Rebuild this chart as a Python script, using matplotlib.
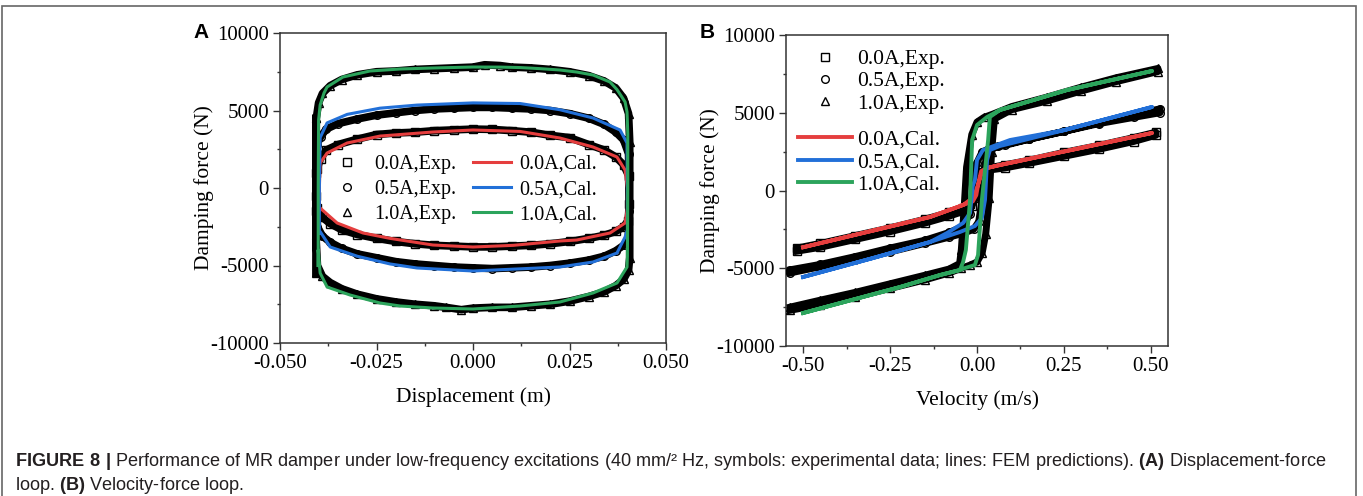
import matplotlib
matplotlib.use('Agg')
import matplotlib.pyplot as plt
from matplotlib.patches import Rectangle
from matplotlib.ticker import MultipleLocator, FormatStrFormatter

plt.rcParams['font.family'] = ['Liberation Serif', 'DejaVu Serif']
plt.rcParams['axes.unicode_minus'] = False
plt.rcParams['mathtext.fontset'] = 'custom'
plt.rcParams['mathtext.rm'] = 'Liberation Sans'
plt.rcParams['mathtext.bf'] = 'Liberation Sans:bold'

currents = ['0.0A', '0.5A', '1.0A']
cal_colors = ['#e53e3e', '#2270d8', '#2ca45c']
exp_markers = ['s', 'o', '^']

# ---- (A) displacement-force, FEM lines (closed loops) ----
a_cal_x = [
    [-0.0398, -0.0398, -0.0396, -0.0378, -0.0326, -0.0241, -0.0104, 0.0, 0.0122, 0.0225, 0.0311, 0.0373, 0.0394, 0.0400,
     0.0400, 0.0394, 0.0355, 0.0269, 0.0225, 0.0104, 0.0, -0.0104, -0.0215, -0.0285, -0.0352, -0.0396, -0.0398],
    [-0.0398, -0.0398, -0.0396, -0.0378, -0.0326, -0.0241, -0.0145, 0.0, 0.0122, 0.0225, 0.0311, 0.0381, 0.0399, 0.0400,
     0.0400, 0.0394, 0.0373, 0.0311, 0.0225, 0.0, -0.0145, -0.0215, -0.0300, -0.0370, -0.0396, -0.0398],
    [-0.0401, -0.0401, -0.0400, -0.0396, -0.0386, -0.0378, -0.0337, -0.0267, -0.0189, -0.0104, 0.0, 0.0070, 0.0122,
     0.0174, 0.0225, 0.0269, 0.0311, 0.0355, 0.0373, 0.0385, 0.0394, 0.0399, 0.0401,
     0.0401, 0.0400, 0.0399, 0.0373, 0.0311, 0.0225, 0.0122, 0.0, -0.0104, -0.0189, -0.0241, -0.0319, -0.0378,
     -0.0396, -0.0401, -0.0401],
]
a_cal_y = [
    [-1400, 0, 1613, 2258, 2903, 3350, 3613, 3742, 3650, 3226, 2645, 2000, 1161, 0,
     -1300, -2258, -2903, -3355, -3419, -3700, -3806, -3677, -3250, -2903, -2258, -1290, -1400],
    [-2900, 0, 3250, 4200, 4750, 5150, 5350, 5490, 5450, 5050, 4516, 3742, 2903, 0,
     -2700, -3161, -4194, -4774, -5097, -5355, -5161, -4900, -4400, -3806, -2810, -2900],
    [-5000, 0, 4400, 5355, 6129, 6516, 7161, 7548, 7677, 7742, 7806, 7800, 7770,
     7700, 7613, 7480, 7290, 6839, 6350, 5900, 5548, 4903, 3500,
     0, -4400, -5097, -6129, -6774, -7355, -7613, -7806, -7742, -7613, -7419, -6900, -6387,
     -5484, -4000, -5000],
]

# ---- (A) experimental bands ----
a_exp_x = [
    [-0.0406, -0.0404, -0.0395, -0.038, -0.035, -0.030, -0.025, -0.020, -0.015, -0.010, -0.005, 0.0, 0.005, 0.010,
     0.015, 0.020, 0.025, 0.030, 0.034, 0.037, 0.039, 0.0403, 0.0405, 0.0402, 0.039, 0.037, 0.034, 0.030, 0.025,
     0.020, 0.015, 0.010, 0.005, 0.0, -0.005, -0.010, -0.015, -0.020, -0.025, -0.030, -0.034, -0.037, -0.039,
     -0.0403, -0.0406, -0.0406],
    [-0.0406, -0.0404, -0.0395, -0.038, -0.035, -0.030, -0.025, -0.020, -0.015, -0.010, -0.005, 0.0, 0.005, 0.010,
     0.015, 0.020, 0.025, 0.030, 0.034, 0.037, 0.039, 0.0403, 0.0405, 0.0402, 0.039, 0.037, 0.034, 0.030, 0.025,
     0.020, 0.015, 0.010, 0.005, 0.0, -0.005, -0.010, -0.015, -0.020, -0.025, -0.030, -0.034, -0.037, -0.039,
     -0.0403, -0.0406, -0.0406],
    [-0.0407, -0.0406, -0.0400, -0.039, -0.037, -0.034, -0.030, -0.025, -0.020, -0.015, -0.010, -0.005, 0.0, 0.003,
     0.007, 0.010, 0.015, 0.020, 0.025, 0.030, 0.034, 0.037, 0.039, 0.0403, 0.0406, 0.0406, 0.0403, 0.039, 0.037,
     0.034, 0.030, 0.025, 0.020, 0.015, 0.010, 0.005, 0.0, -0.003, -0.007, -0.010, -0.015, -0.020, -0.025, -0.030,
     -0.034, -0.037, -0.039, -0.0403, -0.0407, -0.0407],
]
a_exp_y = [
    [-1500, 1200, 1900, 2450, 2800, 3150, 3450, 3550, 3600, 3700, 3750, 3800, 3780, 3700,
     3600, 3400, 3250, 2800, 2450, 2000, 1500, 800, -1000, -2100, -2500, -2800, -3050, -3250, -3450,
     -3600, -3700, -3750, -3800, -3800, -3750, -3700, -3600, -3450, -3250, -3000, -2700, -2300, -1900,
     -1300, -500, 1000],
    [-2500, 2800, 3300, 3800, 4150, 4450, 4700, 4850, 5000, 5100, 5150, 5200, 5200, 5150,
     5100, 5000, 4800, 4500, 4100, 3600, 3100, 2200, -1500, -3300, -3700, -4050, -4400, -4650, -4850,
     -5000, -5100, -5150, -5200, -5150, -5100, -5000, -4900, -4750, -4500, -4250, -3900, -3500, -3100,
     -2500, 0, 2800],
    [-5500, 4500, 5500, 6100, 6600, 7000, 7300, 7500, 7550, 7650, 7700, 7750, 7800, 7950,
     7900, 7800, 7750, 7650, 7500, 7250, 6900, 6450, 5800, 4800, 3000, -4500, -5300, -5900, -6300,
     -6700, -7000, -7300, -7500, -7600, -7700, -7700, -7750, -7850, -7700, -7600, -7500, -7350, -7150, -6850,
     -6500, -6100, -5700, -5000, -3000, 4500],
]

# ---- (B) velocity-force, FEM lines ----
b_cal_x = [
    [-0.50, -0.25, -0.135, -0.040, -0.020, -0.005, 0.005, 0.014, 0.029, 0.066, 0.25, 0.503,
     0.25, 0.066, 0.029, 0.012, 0.005, -0.002, -0.012, -0.040, -0.135, -0.25, -0.50],
    [-0.50, -0.30, -0.135, -0.049, -0.006, 0.014, 0.023, 0.029, 0.037, 0.066, 0.25, 0.503,
     0.25, 0.095, 0.017, 0.0, -0.006, -0.012, -0.020, -0.040, -0.086, -0.135, -0.30, -0.50],
    [-0.50, -0.221, -0.106, -0.049, -0.034, -0.006, 0.003, 0.014, 0.032, 0.037, 0.066, 0.259, 0.503,
     0.259, 0.066, 0.029, 0.0, -0.014, -0.020, -0.032, -0.040, -0.049, -0.106, -0.221, -0.50],
]
b_cal_y = [
    [-3650, -2317, -1704, -932, -600, -150, 500, 1150, 1447, 1640, 2507, 3698,
     2507, 1640, 1447, 1250, 600, -300, -700, -932, -1704, -2317, -3650],
    [-5563, -4350, -3312, -2668, -2283, -1769, -610, 1961, 2605, 2862, 3880, 5370,
     3880, 3248, 2605, 1961, 675, 300, -1447, -2090, -2733, -3312, -4350, -5563],
    [-7880, -6206, -5434, -5113, -4985, -4791, -4148, -610, 3248, 4727, 5177, 6463, 7685,
     6463, 5177, 4727, 4212, 3248, -610, -3826, -4598, -5113, -5434, -6206, -7880],
]

# ---- (B) experimental bands ----
b_exp_x = [
    [-0.517, -0.45, -0.35, -0.25, -0.15, -0.08, -0.04, -0.015, 0.0, 0.008, 0.015, 0.03, 0.08, 0.15, 0.25, 0.35,
     0.45, 0.514, 0.514, 0.45, 0.35, 0.25, 0.15, 0.08, 0.03, 0.012, 0.0, -0.008, -0.02, -0.04, -0.08, -0.15,
     -0.25, -0.35, -0.45, -0.517],
    [-0.537, -0.45, -0.35, -0.25, -0.15, -0.08, -0.04, -0.01, 0.005, 0.015, 0.022, 0.03, 0.06, 0.15, 0.25, 0.35,
     0.45, 0.526, 0.526, 0.45, 0.35, 0.25, 0.15, 0.08, 0.04, 0.015, 0.0, -0.01, -0.02, -0.04, -0.08, -0.15,
     -0.25, -0.35, -0.45, -0.537],
    [-0.537, -0.45, -0.35, -0.25, -0.15, -0.08, -0.045, -0.02, 0.0, 0.015, 0.025, 0.035, 0.042, 0.05, 0.1, 0.2,
     0.3, 0.4, 0.52, 0.52, 0.4, 0.3, 0.2, 0.1, 0.05, 0.02, 0.0, -0.015, -0.03, -0.038, -0.045, -0.05, -0.08,
     -0.15, -0.25, -0.35, -0.45, -0.537],
]
b_exp_y = [
    [-3900, -3650, -3150, -2650, -2100, -1650, -1350, -1000, -300, 600, 1100, 1300, 1450, 1750, 2200, 2650,
     3150, 3550, 3750, 3400, 2900, 2450, 1950, 1650, 1450, 1200, 400, -500, -900, -1100, -1400, -1850,
     -2400, -2900, -3400, -3700],
    [-5300, -4900, -4450, -3950, -3400, -3000, -2750, -2500, -2000, -500, 1500, 2600, 2850, 3300, 3800, 4300,
     4700, 5000, 5250, 4900, 4350, 3800, 3300, 2900, 2700, 2500, 1800, 500, -1500, -2300, -2700, -3200,
     -3700, -4250, -4750, -5100],
    [-7700, -7350, -6850, -6300, -5750, -5300, -5000, -4800, -4600, -4000, -2800, -500, 2500, 4600, 5200, 5750,
     6400, 7000, 7650, 7850, 7250, 6650, 6000, 5400, 4950, 4700, 4400, 3600, 1500, -1500, -3800, -4700, -5050,
     -5450, -6000, -6550, -7050, -7500],
]

W, H = 1363, 496
fig = plt.figure(figsize=(W / 100, H / 100), dpi=100)


def setup_axes(ax, xlim, xmajor, xfmt, xlabel):
    ax.set_xlim(xlim)
    ax.set_ylim(-10000, 10000)
    ax.xaxis.set_major_locator(MultipleLocator(xmajor))
    ax.xaxis.set_minor_locator(MultipleLocator(xmajor / 2))
    ax.xaxis.set_major_formatter(FormatStrFormatter(xfmt))
    ax.yaxis.set_major_locator(MultipleLocator(5000))
    ax.yaxis.set_minor_locator(MultipleLocator(2500))
    ax.tick_params(which='both', direction='out', top=False, right=False, labelsize=15, color='#333', width=1)
    ax.tick_params(which='major', length=5, pad=3)
    ax.tick_params(which='minor', length=2.5)
    for s in ax.spines.values():
        s.set_color('#333')
        s.set_linewidth(1.1)
    ax.set_xlabel(xlabel, fontsize=15.5, labelpad=10)
    ax.set_ylabel('Damping force (N)', fontsize=15.5, labelpad=-3)


def draw(ax, ex, ey, cx, cy, band, lw):
    for i in range(3):
        ax.plot(ex[i], ey[i], color='black', lw=band, solid_joinstyle='round', zorder=2)
        ax.plot(ex[i], ey[i], ls='none', marker=exp_markers[i], ms=5.5, mfc='none', mec='black', mew=1,
                zorder=3, label=currents[i] + ',Exp.')
    for i in range(3):
        ax.plot(cx[i], cy[i], color=cal_colors[i], lw=lw, zorder=4, label=currents[i] + ',Cal.')


axA = fig.add_axes([280 / W, 1 - 343 / H, 386 / W, 310 / H])
setup_axes(axA, (-0.05, 0.05), 0.025, '%.3f', 'Displacement (m)')
draw(axA, a_exp_x, a_exp_y, a_cal_x, a_cal_y, 5.5, 2.2)
h, l = axA.get_legend_handles_labels()
axA.legend(h, l, ncol=2, loc='upper left', bbox_to_anchor=(0.124, 0.607), frameon=False, fontsize=14.5,
           handlelength=1.9, handletextpad=0.4, columnspacing=0.8, labelspacing=0.3, borderpad=0,
           borderaxespad=0)

axB = fig.add_axes([786 / W, 1 - 346 / H, 382 / W, 311 / H])
setup_axes(axB, (-0.549, 0.549), 0.25, '%.2f', 'Velocity (m/s)')
draw(axB, b_exp_x, b_exp_y, b_cal_x, b_cal_y, 5, 2.8)
h, l = axB.get_legend_handles_labels()
legE = axB.legend(h[:3], l[:3], loc='upper left', bbox_to_anchor=(0.031, 0.955), frameon=False, fontsize=15.5,
                  handlelength=2.5, handletextpad=0.25, labelspacing=0.1, borderpad=0, borderaxespad=0)
axB.add_artist(legE)
axB.legend(h[3:], l[3:], loc='upper left', bbox_to_anchor=(0.031, 0.695), frameon=False, fontsize=15.5,
           handlelength=2.5, handletextpad=0.25, labelspacing=0.1, borderpad=0, borderaxespad=0)

# panel letters
fig.text(201 / W, 1 - 33 / H, 'A', family='Liberation Sans', weight='bold', fontsize=15, ha='center', va='center')
fig.text(707 / W, 1 - 33 / H, 'B', family='Liberation Sans', weight='bold', fontsize=15, ha='center', va='center')

# outer frame
fig.add_artist(Rectangle((1.5 / W, -0.02), 1354 / W, 1.02 - 6 / H, transform=fig.transFigure,
                         fill=False, ec='#666666', lw=1.2))

# caption
cap1 = (r'$\mathbf{FIGURE\ 8\ |}$ Performance of MR damper under low-frequency excitations (40 mm/² Hz, '
        r'symbols: experimental data; lines: FEM predictions). $\mathbf{(A)}$ Displacement-force')
cap2 = r'loop. $\mathbf{(B)}$ Velocity-force loop.'
fig.text(15 / W, 1 - 462 / H, cap1, family='Liberation Sans', fontsize=13.1, color='#231f20', va='center')
fig.text(15 / W, 1 - 485 / H, cap2, family='Liberation Sans', fontsize=13.1, color='#231f20', va='center')

fig.savefig('out.png', dpi=100)
